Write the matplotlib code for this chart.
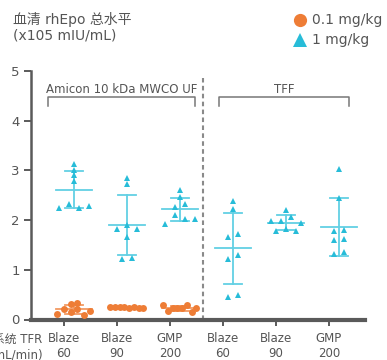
import numpy as np
import matplotlib
matplotlib.use("Agg")
import matplotlib.pyplot as plt
from matplotlib.lines import Line2D

# ---------------- data ----------------
tick_labels = ["Blaze\n60", "Blaze\n90", "GMP\n200", "Blaze\n60", "Blaze\n90", "GMP\n200"]
group_names = ["Amicon 10 kDa MWCO UF", "TFF"]
legend_labels = ["0.1 mg/kg", "1 mg/kg"]

# 0.1 mg/kg (orange circles)
low_amicon_blaze60 = [0.11, 0.21, 0.32, 0.16, 0.21, 0.33, 0.10, 0.17]
low_amicon_blaze90 = [0.25, 0.26, 0.26, 0.25, 0.24, 0.26, 0.24, 0.24]
low_amicon_gmp200 = [0.29, 0.17, 0.24, 0.23, 0.23, 0.29, 0.15, 0.23]

# 1 mg/kg (cyan triangles)
high_amicon_blaze60 = [3.12, 3.00, 2.90, 2.78, 2.24, 2.33, 2.24, 2.28]
high_amicon_blaze90 = [2.85, 2.73, 1.83, 1.90, 1.83, 1.65, 1.22, 1.24]
high_amicon_gmp200 = [2.60, 2.46, 2.27, 2.33, 1.93, 2.10, 2.02, 2.02]
high_tff_blaze60 = [2.39, 2.23, 1.67, 1.73, 1.22, 1.30, 0.46, 0.50]
high_tff_blaze90 = [2.21, 1.99, 1.99, 2.06, 1.94, 1.78, 1.83, 1.78]
high_tff_gmp200 = [3.02, 2.45, 1.79, 1.81, 1.59, 1.61, 1.32, 1.35]

low_series = [low_amicon_blaze60, low_amicon_blaze90, low_amicon_gmp200]
high_series = [high_amicon_blaze60, high_amicon_blaze90, high_amicon_gmp200,
               high_tff_blaze60, high_tff_blaze90, high_tff_gmp200]

# ---------------- style ----------------
ORANGE = "#EE7D36"
ORANGE_ERR = "#F29A62"
CYAN = "#27BCD8"
CYAN_ERR = "#62D0E4"
GREY = "#5a5a5a"
TXT = "#555555"

plt.rcParams["font.family"] = ["DejaVu Sans", "Noto Sans CJK SC"]

fig = plt.figure(figsize=(3.87, 3.60), dpi=100)
ax = fig.add_axes([31 / 387, 1 - 319.5 / 360, (365 - 31) / 387, (319.5 - 71) / 360])

x_shift = 0.185
mean_half = 0.34
cap_half = 0.17


def swarm_offsets(vals, step, max_width, thr=0.095):
    vals = np.asarray(vals, dtype=float)
    order = np.argsort(vals, kind="stable")
    bins, cur = [], [order[0]]
    for i in order[1:]:
        if vals[i] - vals[cur[-1]] <= thr:
            cur.append(i)
        else:
            bins.append(cur)
            cur = [i]
    bins.append(cur)
    offs = np.zeros(len(vals))
    for b in bins:
        b = sorted(b)
        n = len(b)
        if n == 1:
            continue
        s = min(step, max_width / (n - 1))
        for k, i in enumerate(b):
            offs[i] = (k - (n - 1) / 2) * s
    return offs


def draw_group(xc, vals, color, ecolor, marker, ms, step):
    vals = np.asarray(vals, dtype=float)
    m = vals.mean()
    sd = vals.std(ddof=1)
    lw = 1.3
    ax.plot([xc - mean_half, xc + mean_half], [m, m], color=ecolor, lw=lw, zorder=2)
    ax.plot([xc, xc], [m - sd, m + sd], color=ecolor, lw=lw, zorder=2)
    for yy in (m - sd, m + sd):
        ax.plot([xc - cap_half, xc + cap_half], [yy, yy], color=ecolor, lw=lw, zorder=2)
    offs = swarm_offsets(vals, step, 0.62)
    ax.plot(xc + offs, vals, linestyle="none", marker=marker, ms=ms,
            color=color, markeredgewidth=0, zorder=3)


for i, vals in enumerate(high_series):
    draw_group(i + x_shift, vals, CYAN, CYAN_ERR, "^", 4.7, 0.19)
for i, vals in enumerate(low_series):
    draw_group(i + x_shift, vals, ORANGE, ORANGE_ERR, "o", 5.0, 0.125)

# separator
ax.plot([2.62, 2.62], [0, 4.85], color="#8a8a8a", lw=1.5, ls=(0, (2.2, 1.6)), zorder=1)

# group brackets
for (x0, x1), name in zip([(-0.31, 2.47), (2.92, 5.38)], group_names):
    ax.plot([x0, x0, x1, x1], [4.30, 4.48, 4.48, 4.30], color="#777777", lw=1.1,
            clip_on=False)
    ax.text((x0 + x1) / 2, 4.63, name, ha="center", va="center", fontsize=8.5,
            color=TXT)

# axes styling
ax.set_xlim(-0.623, 5.68)
ax.set_ylim(0, 5)
ax.set_xticks(range(len(tick_labels)))
ax.set_xticklabels(tick_labels, fontsize=8.5, color=TXT, linespacing=1.2)
ax.set_yticks([0, 1, 2, 3, 4, 5])
ax.set_yticklabels(["0", "1", "2", "3", "4", "5"], fontsize=9.5, color=TXT)
for s in ("top", "right"):
    ax.spines[s].set_visible(False)
ax.spines["left"].set_linewidth(1.8)
ax.spines["left"].set_color(GREY)
ax.spines["bottom"].set_linewidth(3.0)
ax.spines["bottom"].set_color(GREY)
ax.tick_params(axis="y", length=5, width=1.4, color=GREY, pad=3)
ax.tick_params(axis="x", length=4, width=1.4, color=GREY, pad=5)
ax.set_facecolor("none")

# y title (top-left)
fig.text(13 / 387, 1 - 12 / 360, "血清 rhEpo 总水平\n(x105 mIU/mL)", ha="left", va="top",
         fontsize=10, color=TXT, linespacing=1.15)

# x axis caption (cut at left edge, as in the reference)
fig.text(42.5 / 387, 1 - 334 / 360, "系统 TFR\n(mL/min)", ha="right", va="top",
         fontsize=8.5, color=TXT, linespacing=1.2, multialignment="right")

# legend
fig.add_artist(Line2D([300 / 387], [1 - 20 / 360], marker="o", ms=9.5, color=ORANGE,
                      markeredgewidth=0, linestyle="none", transform=fig.transFigure))
fig.add_artist(Line2D([300 / 387], [1 - 39.5 / 360], marker="^", ms=10, color=CYAN,
                      markeredgewidth=0, linestyle="none", transform=fig.transFigure))
fig.text(312 / 387, 1 - 20 / 360, legend_labels[0], ha="left", va="center", fontsize=10,
         color=TXT)
fig.text(312 / 387, 1 - 40 / 360, legend_labels[1], ha="left", va="center", fontsize=10,
         color=TXT)

fig.savefig("out.png", dpi=100)
